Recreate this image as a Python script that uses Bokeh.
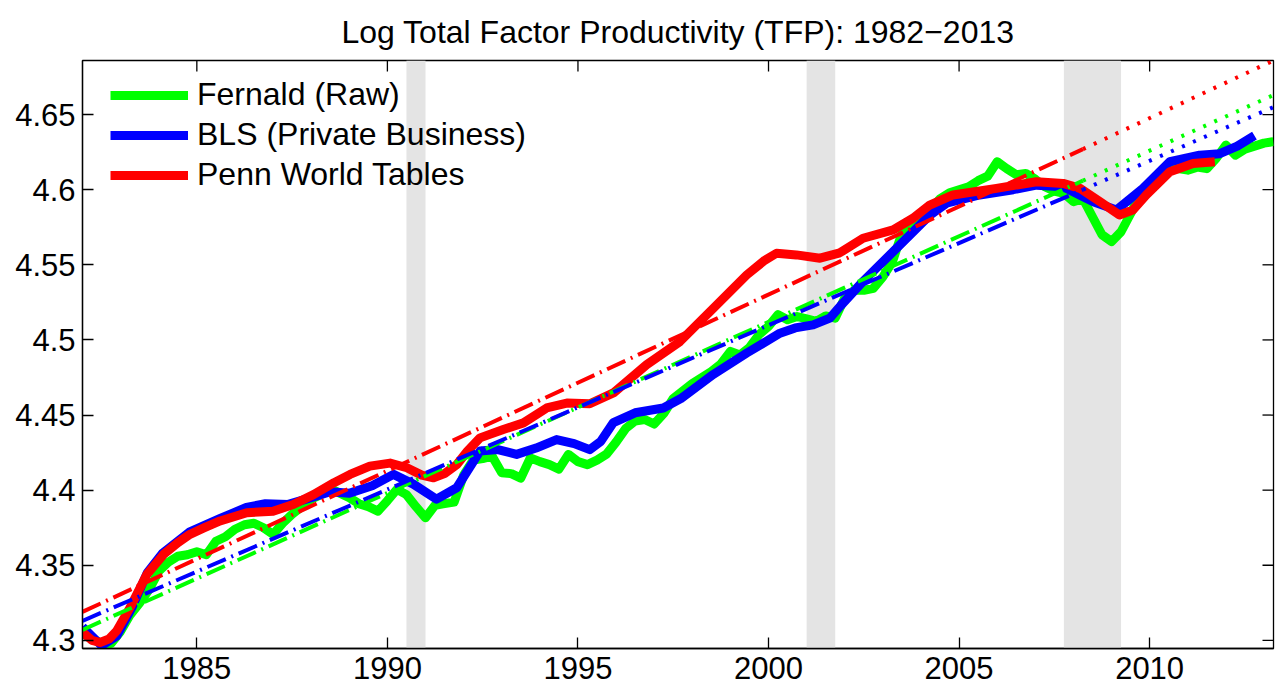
import math
from bokeh.plotting import figure
from bokeh.models import (Range1d, FixedTicker, CustomJSTickFormatter,
                          BoxAnnotation, Legend, LegendItem)
from bokeh.embed import file_html
from bokeh.resources import INLINE

# ---------------- data ----------------
title_text = "Log Total Factor Productivity (TFP): 1982\u22122013"

x_start, x_end = 1982.0, 2013.25
y_start, y_end = 4.2946, 4.686
x_ticks = [1985, 1990, 1995, 2000, 2005, 2010]
y_ticks = [4.3, 4.35, 4.4, 4.45, 4.5, 4.55, 4.6, 4.65]

recession_start = [1990.5, 2001.0, 2007.75]
recession_end = [1991.0, 2001.75, 2009.25]

fernald_years = [
    1982.0, 1982.25, 1982.5, 1982.75, 1983.0, 1983.25, 1983.5, 1983.75,
    1984.0, 1984.25, 1984.5, 1984.75, 1985.0, 1985.25, 1985.5, 1985.75,
    1986.0, 1986.25, 1986.5, 1986.75, 1987.0, 1987.25, 1987.5, 1987.75,
    1988.0, 1988.25, 1988.5, 1988.75, 1989.0, 1989.25, 1989.5, 1989.75,
    1990.0, 1990.25, 1990.5, 1990.75, 1991.0, 1991.25, 1991.5, 1991.75,
    1992.0, 1992.25, 1992.5, 1992.75, 1993.0, 1993.25, 1993.5, 1993.75,
    1994.0, 1994.25, 1994.5, 1994.75, 1995.0, 1995.25, 1995.5, 1995.75,
    1996.0, 1996.25, 1996.5, 1996.75, 1997.0, 1997.25, 1997.5, 1997.75,
    1998.0, 1998.25, 1998.5, 1998.75, 1999.0, 1999.25, 1999.5, 1999.75,
    2000.0, 2000.25, 2000.5, 2000.75, 2001.0, 2001.25, 2001.5, 2001.75,
    2002.0, 2002.25, 2002.5, 2002.75, 2003.0, 2003.25, 2003.5, 2003.75,
    2004.0, 2004.25, 2004.5, 2004.75, 2005.0, 2005.25, 2005.5, 2005.75,
    2006.0, 2006.25, 2006.5, 2006.75, 2007.0, 2007.25, 2007.5, 2007.75,
    2008.0, 2008.25, 2008.5, 2008.75, 2009.0, 2009.25, 2009.5, 2009.75,
    2010.0, 2010.25, 2010.5, 2010.75, 2011.0, 2011.25, 2011.5, 2011.75,
    2012.0, 2012.25, 2012.5, 2012.75, 2013.0, 2013.25]
fernald_tfp = [
    4.305, 4.301, 4.298, 4.298, 4.306, 4.317, 4.325, 4.334,
    4.346, 4.352, 4.356, 4.357, 4.359, 4.357, 4.366, 4.369,
    4.374, 4.377, 4.378, 4.375, 4.3706, 4.378, 4.384, 4.389,
    4.394, 4.397, 4.401, 4.398, 4.395, 4.391, 4.389, 4.386,
    4.393, 4.4005, 4.397, 4.389, 4.3816, 4.390, 4.391, 4.392,
    4.410, 4.420, 4.421, 4.4226, 4.4115, 4.411, 4.408, 4.4215,
    4.419, 4.417, 4.414, 4.4238, 4.419, 4.417, 4.420, 4.424,
    4.432, 4.441, 4.446, 4.447, 4.444, 4.451, 4.461, 4.466,
    4.471, 4.475, 4.479, 4.484, 4.4924, 4.490, 4.495, 4.5035,
    4.509, 4.5168, 4.5134, 4.5156, 4.514, 4.5123, 4.516, 4.5145,
    4.528, 4.533, 4.533, 4.5344, 4.542, 4.552, 4.571, 4.578,
    4.583, 4.587, 4.594, 4.598, 4.600, 4.602, 4.606, 4.609,
    4.6186, 4.614, 4.610, 4.6108, 4.607, 4.602, 4.599, 4.5975,
    4.592, 4.594, 4.582, 4.570, 4.5655, 4.572, 4.584, 4.597,
    4.604, 4.610, 4.613, 4.614, 4.613, 4.615, 4.614, 4.621,
    4.6297, 4.623, 4.627, 4.629, 4.631, 4.632]

bls_years = [
    1982.0, 1982.5, 1982.9, 1983.3, 1983.7, 1984.1, 1984.8, 1985.6,
    1986.3, 1986.8, 1987.4, 1988.0, 1988.5, 1989.0, 1989.6, 1990.16,
    1990.68, 1991.29, 1991.82, 1992.43, 1992.9, 1993.39, 1993.9, 1994.44,
    1994.9, 1995.31, 1995.6, 1995.93, 1996.5, 1997.24, 1997.7, 1998.55,
    1999.43, 2000.3, 2000.7, 2001.17, 2001.61, 2001.9, 2002.48, 2003.36,
    2004.23, 2004.67, 2005.54, 2006.42, 2007.03, 2007.73, 2008.2, 2008.52,
    2009.13, 2009.83, 2010.53, 2011.31, 2011.84, 2012.3, 2012.75]
bls_tfp = [
    4.309, 4.2965, 4.303, 4.322, 4.345, 4.358, 4.372, 4.381,
    4.3885, 4.391, 4.3905, 4.395, 4.399, 4.398, 4.403, 4.4105,
    4.404, 4.394, 4.4016, 4.426, 4.427, 4.4238, 4.428, 4.4337,
    4.431, 4.427, 4.4325, 4.445, 4.4515, 4.4547, 4.461, 4.477,
    4.4913, 4.5045, 4.508, 4.510, 4.5145, 4.523, 4.539, 4.561,
    4.583, 4.591, 4.5965, 4.600, 4.603, 4.602, 4.596, 4.592,
    4.5865, 4.601, 4.6186, 4.623, 4.624, 4.629, 4.636]

pwt_years = [
    1982.0, 1982.25, 1982.46, 1982.7, 1982.9, 1983.25, 1983.69, 1984.13,
    1984.5, 1984.82, 1985.2, 1985.61, 1986.31, 1987.0, 1987.53, 1988.06,
    1988.6, 1989.02, 1989.54, 1990.07, 1990.51, 1990.9, 1991.21, 1991.5,
    1991.82, 1992.1, 1992.43, 1993.04, 1993.57, 1994.18, 1994.71, 1995.31,
    1995.93, 1996.8, 1997.68, 1998.55, 1999.43, 1999.9, 2000.21, 2000.73,
    2001.35, 2001.87, 2002.48, 2003.27, 2003.79, 2004.23, 2004.84, 2005.98,
    2007.03, 2007.73, 2008.17, 2008.7, 2009.21, 2009.56, 2009.91, 2010.53,
    2011.14, 2011.71]
pwt_tfp = [
    4.3055, 4.300, 4.2986, 4.301, 4.3064, 4.3219, 4.344, 4.3573,
    4.365, 4.3706, 4.375, 4.3795, 4.385, 4.386, 4.3905, 4.397,
    4.405, 4.4105, 4.416, 4.418, 4.4149, 4.410, 4.4082, 4.411,
    4.417, 4.426, 4.4348, 4.4404, 4.4448, 4.4547, 4.458, 4.4575,
    4.4647, 4.4835, 4.499, 4.521, 4.5433, 4.553, 4.5577, 4.5566,
    4.5544, 4.558, 4.5677, 4.5733, 4.581, 4.5898, 4.5965, 4.6009,
    4.6053, 4.6042, 4.6009, 4.592, 4.5832, 4.5865, 4.5965, 4.612,
    4.6175, 4.6186]

# linear trends: fitted span (dash-dot) and extrapolation (dotted)
trend_fit_years = [1982.0, 2008.25]
trend_ext_years = [2008.25, 2013.25]
fernald_trend_fit = [4.307, 4.606]
fernald_trend_ext = [4.606, 4.663]
bls_trend_fit = [4.313, 4.600]
bls_trend_ext = [4.600, 4.655]
pwt_trend_fit = [4.319, 4.627]
pwt_trend_ext = [4.627, 4.686]

series_labels = ["Fernald (Raw)", "BLS (Private Business)", "Penn World Tables"]

# ---------------- styling ----------------
GREEN, BLUE, RED = "#00ff00", "#0000ff", "#ff0000"
FONT = "Liberation Sans"

p = figure(width=1280, height=692, output_backend="svg", toolbar_location=None,
           x_range=Range1d(x_start, x_end), y_range=Range1d(y_start, y_end),
           min_border_left=82, min_border_right=7, min_border_top=58,
           min_border_bottom=44, background_fill_color="white",
           border_fill_color="white")

p.title.text = title_text
p.title.text_font = FONT
p.title.text_font_size = "32px"
p.title.text_font_style = "normal"
p.title.align = "center"
p.title.text_color = "black"
p.title.standoff = 22

p.xgrid.visible = False
p.ygrid.visible = False
p.outline_line_color = "black"
p.outline_line_width = 1.3

xax = p.below[0]
yax = p.left[0]
xax.ticker = FixedTicker(ticks=x_ticks)
yax.ticker = FixedTicker(ticks=y_ticks)
yax.formatter = CustomJSTickFormatter(code="return String(Number(tick.toFixed(2)));")
for ax in (xax, yax):
    ax.axis_line_color = "black"
    ax.axis_line_width = 1.3
    ax.major_tick_line_color = "black"
    ax.major_tick_line_width = 1.3
    ax.major_tick_in = 11
    ax.major_tick_out = 0
    ax.minor_tick_line_color = None
    ax.major_label_text_font = FONT
    ax.major_label_text_font_size = "31px"
    ax.major_label_text_color = "black"
xax.major_label_standoff = 8
yax.major_label_standoff = 7

for s, e in zip(recession_start, recession_end):
    p.add_layout(BoxAnnotation(left=s, right=e, fill_color="#e4e4e4", fill_alpha=1.0,
                               line_color=None, level="underlay"))

# tick marks on the top and right edges of the box (half of each dash is clipped)
p.scatter(x_ticks, [y_end] * len(x_ticks), marker="dash", angle=math.pi / 2, size=22,
          line_color="black", line_width=1.3)
p.scatter([x_end] * len(y_ticks), y_ticks, marker="dash", size=22,
          line_color="black", line_width=1.3)

LW = 9
g = p.line(fernald_years, fernald_tfp, line_color=GREEN, line_width=LW, line_join="round")
b = p.line(bls_years, bls_tfp, line_color=BLUE, line_width=LW, line_join="round")
r = p.line(pwt_years, pwt_tfp, line_color=RED, line_width=LW, line_join="round")

TW = 4
for col, fit, ext in ((GREEN, fernald_trend_fit, fernald_trend_ext),
                      (BLUE, bls_trend_fit, bls_trend_ext),
                      (RED, pwt_trend_fit, pwt_trend_ext)):
    p.line(trend_fit_years, fit, line_color=col, line_width=TW, line_dash="20 6 2 6")
    p.line(trend_ext_years, ext, line_color=col, line_width=TW, line_dash="3 9")

legend = Legend(items=[LegendItem(label=series_labels[0], renderers=[g]),
                       LegendItem(label=series_labels[1], renderers=[b]),
                       LegendItem(label=series_labels[2], renderers=[r])],
                location=(28, 455), border_line_color=None, background_fill_alpha=0,
                label_text_font=FONT, label_text_font_size="32px", label_text_color="black",
                glyph_width=78, glyph_height=36, label_height=36, label_standoff=9,
                spacing=3, padding=0, margin=0)
p.add_layout(legend)

open("out.html", "w").write(file_html(p, INLINE))
